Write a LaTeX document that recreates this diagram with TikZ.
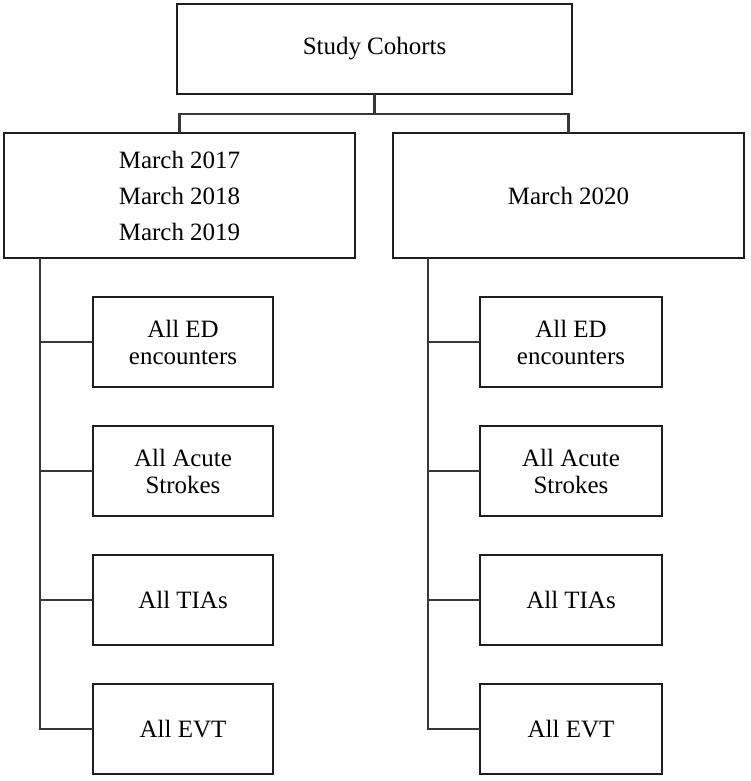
\documentclass[tikz,border=0pt]{standalone}
\usepackage{fontspec}
\setmainfont{Liberation Serif}
\usepackage{xcolor}
\usepackage{tikz}
\usetikzlibrary{
  positioning
}
\definecolor{BoxLine}{RGB}{30, 30, 30}
\definecolor{LinkLine}{RGB}{55, 55, 55}
\tikzset{
    cohortbox/.style={rectangle, draw=BoxLine, line width=1.4pt, outer sep=0pt,
        align=center, font=\fontsize{14.2}{20.5}\selectfont},
    itembox/.style={cohortbox, minimum width=3.6cm, minimum height=1.8cm,
        font=\fontsize{14.2}{15.4}\selectfont},
    link/.style={draw=LinkLine, line width=1.15pt}
}

\begin{document}
\begin{tikzpicture}
    \useasboundingbox (0,0) rectangle (15,-15.62);
    % top level
    \node[cohortbox, minimum width=7.9cm, minimum height=1.8cm] (study) at (7.49,-0.98) {Study Cohorts};
    \node[cohortbox, minimum width=7.02cm, minimum height=2.5cm] (before) at (3.59,-3.91) {March 2017\\March 2018\\March 2019};
    \node[cohortbox, minimum width=7.02cm, minimum height=2.5cm] (covid) at (11.37,-3.91) {March 2020};
    \coordinate (split) at (7.49,-2.28);
    \draw[link] (study.south) -- (split);
    \draw[link] (before.north) |- (split) -| (covid.north);

    % earlier years
    \node[itembox] (beforeED) at (3.66,-6.84) {All ED\\encounters};
    \node[itembox, below=0.78cm of beforeED] (beforeStroke) {All Acute\\Strokes};
    \node[itembox, below=0.78cm of beforeStroke] (beforeTIA) {All TIAs};
    \node[itembox, below=0.78cm of beforeTIA] (beforeEVT) {All EVT};
    \coordinate (beforeTrunk) at (0.8,-5.16);
    \draw[link] (beforeTrunk) |- (beforeEVT.west);
    \draw[link] (beforeTrunk |- beforeED.west) -- (beforeED.west);
    \draw[link] (beforeTrunk |- beforeStroke.west) -- (beforeStroke.west);
    \draw[link] (beforeTrunk |- beforeTIA.west) -- (beforeTIA.west);

    % march 2020
    \node[itembox, minimum width=3.64cm] (covidED) at (11.42,-6.84) {All ED\\encounters};
    \node[itembox, minimum width=3.64cm, below=0.78cm of covidED] (covidStroke) {All Acute\\Strokes};
    \node[itembox, minimum width=3.64cm, below=0.78cm of covidStroke] (covidTIA) {All TIAs};
    \node[itembox, minimum width=3.64cm, below=0.78cm of covidTIA] (covidEVT) {All EVT};
    \coordinate (covidTrunk) at (8.56,-5.16);
    \draw[link] (covidTrunk) |- (covidEVT.west);
    \draw[link] (covidTrunk |- covidED.west) -- (covidED.west);
    \draw[link] (covidTrunk |- covidStroke.west) -- (covidStroke.west);
    \draw[link] (covidTrunk |- covidTIA.west) -- (covidTIA.west);
\end{tikzpicture}
\end{document}
